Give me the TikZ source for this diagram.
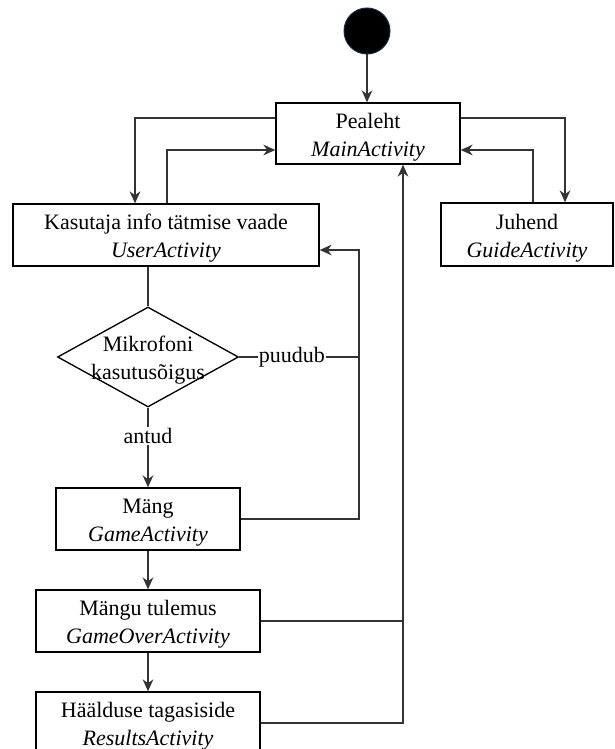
\documentclass[tikz,border=0pt]{standalone}
\usepackage{fontspec}
\setmainfont{Liberation Serif}
\usetikzlibrary{arrows.meta,shapes.geometric}
\begin{document}
\begin{tikzpicture}[x=0.75pt,y=-0.75pt,
  ln/.style={draw=black!80, line width=1.15pt},
  arr/.style={ln, -{Stealth[length=9pt,width=8pt]}},
  box/.style={draw=black, line width=1pt, fill=white, inner sep=0pt},
  txt/.style={align=center, inner sep=0pt, font=\fontsize{16.5}{21}\selectfont},
  lbl/.style={fill=white, inner sep=1pt, font=\fontsize{16.5}{21}\selectfont}]
\useasboundingbox (0,0) rectangle (614,749);
\clip (0,0) rectangle (614,749);

\node[circle, fill=black, draw={rgb,255:red,20;green,40;blue,80}, line width=0.75pt,
  minimum size=34.5pt, inner sep=0pt] (start) at (367,31) {};
\node[box, minimum width=138pt, minimum height=45.75pt] (main) at (368,133.5) {};
\node[txt] (maint) at ([yshift=-2.5pt]main.center) {Pealeht\\\textit{MainActivity}};
\node[box, minimum width=229.5pt, minimum height=46.5pt] (user) at (166,235) {};
\node[txt] (usert) at ([yshift=-2.5pt]user.center) {Kasutaja info tätmise vaade\\\textit{UserActivity}};
\node[box, minimum width=129pt, minimum height=47.25pt] (guide) at (527,234.5) {};
\node[txt] (guidet) at ([yshift=-2.5pt]guide.center) {Juhend\\\textit{GuideActivity}};
\node[diamond, draw=black, line width=1pt, minimum width=135.75pt, minimum height=75pt,
  inner sep=0pt] (dec) at (148,357) {};
\node[txt] (dect) at ([yshift=-2pt]dec.center) {Mikrofoni\\kasutusõigus};
\node[box, minimum width=138pt, minimum height=46.5pt] (game) at (148,519) {};
\node[txt] (gamet) at ([yshift=-2.5pt]game.center) {Mäng\\\textit{GameActivity}};
\node[box, minimum width=168pt, minimum height=46.5pt] (over) at (148,621) {};
\node[txt] (overt) at ([yshift=-2.5pt]over.center) {Mängu tulemus\\\textit{GameOverActivity}};
\node[box, minimum width=168pt, minimum height=46.5pt] (res) at (148,723) {};
\node[txt] (rest) at ([yshift=-2.5pt]res.center) {Häälduse tagasiside\\\textit{ResultsActivity}};

\coordinate (mu) at (135,118);
\coordinate (um) at (167,150);
\coordinate (mg) at (565,118);
\coordinate (gm) at (533,150);
\coordinate (pu) at (359,357);
\coordinate (ur) at (359,250);
\coordinate (om) at (403,621);

\draw[arr] (start.south) -- (start.south |- main.north);
\draw[arr] (main.west |- mu) -| (user.north -| mu);
\draw[arr] (user.north -| um) |- (main.west |- um);
\draw[arr] (main.east |- mg) -| (guide.north -| mg);
\draw[arr] (guide.north -| gm) |- (main.east |- gm);
\draw[ln] (dec.north |- user.south) -- (dec.north);
\draw[arr] (dec.south) -- node[lbl, pos=0.36] {antud} (game.north);
\draw[arr] (dec.east) -- node[lbl, pos=0.44] {puudub} (pu) -- (ur) -- (user.east |- ur);
\draw[ln] (game.east) -| (pu);
\draw[arr] (game.south) -- (over.north);
\draw[arr] (over.east) -- (om) -- (main.south -| om);
\draw[arr] (over.south) -- (res.north);
\draw[ln] (res.east) -| (om);
\end{tikzpicture}
\end{document}
